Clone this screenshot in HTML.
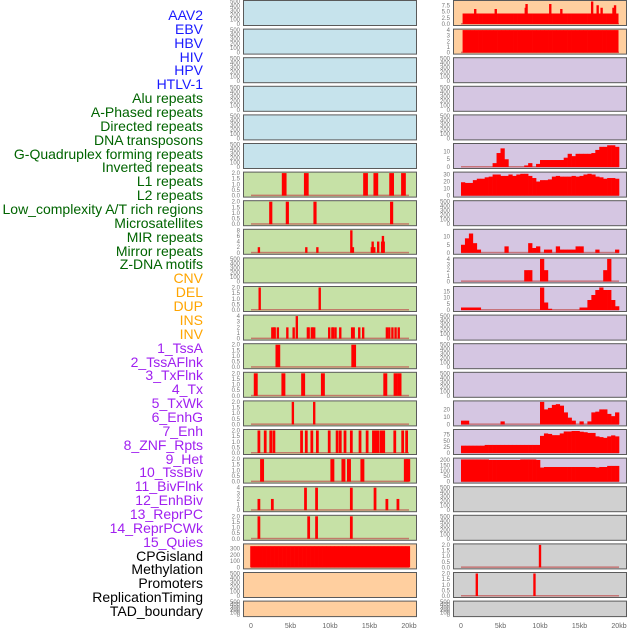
<!DOCTYPE html>
<html><head><meta charset="utf-8">
<style>
body{margin:0;background:#fff;width:630px;height:630px;overflow:hidden;font-family:"Liberation Sans",sans-serif;}
#labels{position:absolute;left:0;top:0;width:203px;}
.lab{position:absolute;right:0;font-size:14px;line-height:14px;white-space:nowrap;}
svg{position:absolute;left:0;top:0;}
</style></head>
<body>
<div id="labels"></div>
<svg id="chart" width="630" height="630"></svg>
<script>
const labelNames=["AAV2","EBV","HBV","HIV","HPV","HTLV-1","Alu repeats","A-Phased repeats","Directed repeats","DNA transposons","G-Quadruplex forming repeats","Inverted repeats","L1 repeats","L2 repeats","Low_complexity A/T rich regions","Microsatellites","MIR repeats","Mirror repeats","Z-DNA motifs","CNV","DEL","DUP","INS","INV","1_TssA","2_TssAFlnk","3_TxFlnk","4_Tx","5_TxWk","6_EnhG","7_Enh","8_ZNF_Rpts","9_Het","10_TssBiv","11_BivFlnk","12_EnhBiv","13_ReprPC","14_ReprPCWk","15_Quies","CPGisland","Methylation","Promoters","ReplicationTiming","TAD_boundary"];
const labelColors=["#1a1aff","#1a1aff","#1a1aff","#1a1aff","#1a1aff","#1a1aff","#006400","#006400","#006400","#006400","#006400","#006400","#006400","#006400","#006400","#006400","#006400","#006400","#006400","#ffa500","#ffa500","#ffa500","#ffa500","#ffa500","#a020f0","#a020f0","#a020f0","#a020f0","#a020f0","#a020f0","#a020f0","#a020f0","#a020f0","#a020f0","#a020f0","#a020f0","#a020f0","#a020f0","#a020f0","#000","#000","#000","#000","#000"];

// Left column bar tracks: positions (kb) and heights
const L7pos=[4.2,7.0,14.5,15.8,17.8,19.3]; const L7val=[2,2,2,2,2,2];
const L8pos=[2.5,4.6,8.1,17.8]; const L8val=[2,2,2,2];
const L9pos=[1.0,7.0,8.4,12.7,12.9,15.3,15.4,15.6,16.1,16.6,16.7,16.8]; const L9val=[2,2,2,8,2,2,4,2,4,4,6,4];
const L11pos=[1.1,8.7]; const L11val=[2,2];
const L12pos=[2.7,2.9,3.0,3.4,4.6,5.4,5.8,7.2,7.3,7.7,7.8,8.0,9.9,10.3,10.4,10.7,11.3,12.8,13.0,13.7,14.2,17.2,17.5,17.9,18.3,18.7];
const L12val=[2,2,2,2,2,2,4,2,2,2,2,2,2,2,2,2,2,2,2,2,2,2,2,2,2,2];
const L13pos=[3.4,13.0]; const L13val=[2,2];
const L14pos=[0.6,4.1,6.6,9.1,17.0,18.3,18.8]; const L14val=[2,2,2,2,2,2,2];
const L15pos=[5.3,8.0]; const L15val=[2,2];
const L16pos=[1.0,1.8,2.5,2.9,6.4,7.0,7.7,8.4,9.9,10.9,11.3,11.9,12.7,13.8,14.7,15.5,15.8,16.1,16.5,16.8,18.2,19.2,19.7];
const L16val=[2,2,2,2,2,2,2,2,2,2,2,2,2,2,2,2,2,2,2,2,2,2,2];
const L17pos=[1.4,10.3,11.7,12.4,14.1,19.6,19.9]; const L17val=[2,2,2,2,2,2,2];
const L18pos=[1.0,2.7,6.9,8.3,12.7,15.7,17.2,18.6]; const L18val=[2,2,4,4,4,4,2,2];
const L19pos=[1.0,7.3,8.3,12.7]; const L19val=[2,2,2,2];
const L20bins=[340,340,340,340,340,340,340,340,340,340,340,340,340,340,340,340,340,340,340,340,340,340,340,340,340,340,340,340,340,340,340,340,340,340,340,340,340,340,340,340];

// Right column tracks
const R1pos=[1.8,4.4,8.2,8.3,11.3,12.7,16.6,17.3,17.8,19.3,19.5]; const R1val=[6,6,6.5,8,8,6,9,7.5,6.5,6.5,7.5];
const R1bins=Array(40).fill(4.2);
const R2bins=Array(40).fill(4);
const R6bins=[0,0,0,0,0,0,0,0,2.5,9,12,5,0,0,0,0,1,2.5,0,2,4.5,4.5,4.5,4.5,4.5,4.5,6,8.5,7,8.5,8.5,8.5,8.5,9,11,13,13,14,14,13];
const R7bins=[19,18,18,22,24,24,26,27,30,30,28,28,30,28,30,31,31,28,25,20,22,22,23,27,28,27,27,27,28,27,28,30,31,30,27,26,24,25,25,24];
const R9bins=[5,9,12,6,2,0,0,0,0,0,0,4,0,0,0,0,0,6,3,4,0,2,2,0,4,2,2,2,2,4,4,0,0,0,2,0,0,0,0,2];
const R10bins=[0,0,0,0,0,0,0,0,0,0,0,0,0,0,0,0,2,2,0,0,4,2,0,0,0,0,0,0,0,0,0,0,0,0,0,0,2,4,0,0];
const R11bins=[2,2,2,2,2,0,0,0,0,0,0,0,0,0,0,0,0,0,0,0,18,6,1,0,0,0,0,0,0,0,2,2,8,12,16,18,16,16,8,3];
const R15bins=[5,5,0,0,0,0,0,0,0,0,4,0,0,0,0,0,0,0,0,0,30,20,22,26,27,25,16,9,5,0,4,0,4,16,17,20,20,14,11,16];
const R16bins=[30,30,30,30,30,30,33,33,33,33,33,33,33,33,33,33,33,33,33,33,70,80,78,73,73,80,88,88,90,90,87,85,82,82,68,65,62,68,72,68];
const R17bins=[205,205,205,205,205,205,205,200,200,200,200,200,200,200,200,205,205,205,205,200,130,135,135,135,135,135,135,135,135,135,135,135,135,135,130,135,135,145,145,145];
const R20pos=[10.0]; const R20val=[2];
const R21pos=[2.0,9.3]; const R21val=[2,2];

const T500=[0,100,200,300,400,500], T2=[0,0.5,1,1.5,2], T4=[0,1,2,3,4];
const BLUE="#c6e3ec",GREEN="#c6e1a6",ORANGE="#ffcf9f",PURPLE="#d5c6e2",GRAY="#d0d0d0";
const left=[
 {bg:BLUE,ticks:T500,ymax:500},{bg:BLUE,ticks:T500,ymax:500},{bg:BLUE,ticks:T500,ymax:500},{bg:BLUE,ticks:T500,ymax:500},{bg:BLUE,ticks:T500,ymax:500},{bg:BLUE,ticks:T500,ymax:500},
 {bg:GREEN,ticks:T2,ymax:2,pos:L7pos,val:L7val,w:0.6},{bg:GREEN,ticks:T2,ymax:2,pos:L8pos,val:L8val,w:0.4},
 {bg:GREEN,ticks:[0,2,4,6,8],ymax:8,pos:L9pos,val:L9val,w:0.3},{bg:GREEN,ticks:T500,ymax:500},
 {bg:GREEN,ticks:T2,ymax:2,pos:L11pos,val:L11val,w:0.3},{bg:GREEN,ticks:T4,ymax:4,pos:L12pos,val:L12val,w:0.3},
 {bg:GREEN,ticks:T2,ymax:2,pos:L13pos,val:L13val,w:0.6},{bg:GREEN,ticks:T2,ymax:2,pos:L14pos,val:L14val,w:0.5},
 {bg:GREEN,ticks:T2,ymax:2,pos:L15pos,val:L15val,w:0.3},{bg:GREEN,ticks:T2,ymax:2,pos:L16pos,val:L16val,w:0.35},
 {bg:GREEN,ticks:T2,ymax:2,pos:L17pos,val:L17val,w:0.5},{bg:GREEN,ticks:T4,ymax:4,pos:L18pos,val:L18val,w:0.35},
 {bg:GREEN,ticks:T2,ymax:2,pos:L19pos,val:L19val,w:0.35},
 {bg:ORANGE,ticks:[0,100,200,300],ymax:360,bins:L20bins,b0:-0.1,b1:20.1},
 {bg:ORANGE,ticks:T500,ymax:500},{bg:ORANGE,ticks:T500,ymax:500}];
const right=[
 {bg:ORANGE,ticks:[0,2.5,5,7.5],ymax:9,bins:R1bins,pos:R1pos,val:R1val,w:0.3,b0:0.2,b1:19.9},
 {bg:ORANGE,ticks:T4,ymax:4,bins:R2bins,b0:0.2,b1:19.9},
 {bg:PURPLE,ticks:T500,ymax:500},{bg:PURPLE,ticks:T500,ymax:500},{bg:PURPLE,ticks:T500,ymax:500},
 {bg:PURPLE,ticks:[0,5,10],ymax:14.5,bins:R6bins},{bg:PURPLE,ticks:[0,10,20,30],ymax:32,bins:R7bins},
 {bg:PURPLE,ticks:T500,ymax:500},{bg:PURPLE,ticks:[0,5,10],ymax:14,bins:R9bins},
 {bg:PURPLE,ticks:T4,ymax:4,bins:R10bins},{bg:PURPLE,ticks:[0,5,10,15],ymax:18,bins:R11bins},
 {bg:PURPLE,ticks:T500,ymax:500},{bg:PURPLE,ticks:T500,ymax:500},{bg:PURPLE,ticks:T500,ymax:500},
 {bg:PURPLE,ticks:[0,10,20],ymax:30,bins:R15bins},{bg:PURPLE,ticks:[0,25,50,75],ymax:92,bins:R16bins},
 {bg:PURPLE,ticks:[0,50,100,150,200],ymax:208,bins:R17bins},
 {bg:GRAY,ticks:T500,ymax:500},{bg:GRAY,ticks:T500,ymax:500},
 {bg:GRAY,ticks:T2,ymax:2,pos:R20pos,val:R20val,w:0.3,base:true},
 {bg:GRAY,ticks:T2,ymax:2,pos:R21pos,val:R21val,w:0.3,base:true},
 {bg:GRAY,ticks:T500,ymax:500}];

const lab=document.getElementById('labels');
labelNames.forEach((n,i)=>{
  const d=document.createElement('div');
  d.className='lab';
  d.style.top=(8+i*13.86)+'px';
  d.style.color=labelColors[i];
  d.textContent=n;
  
  
  lab.appendChild(d);
});

const svg=document.getElementById('chart');
const NS="http://www.w3.org/2000/svg";
function mk(tag,attrs,parent){const e=document.createElementNS(NS,tag);for(const k in attrs)e.setAttribute(k,attrs[k]);(parent||svg).appendChild(e);return e;}
function xScale(col,kb){return (col?461:251)+kb*7.9;}
function fmt(v){return String(v%1===0&&v!==2.5&&v!==7.5?(v>=10||Number.isInteger(v)&&v>4?v:v.toFixed? (v<=4&&!(v>=100)?(v%1===0&&v>4?v:(v<5&&[0,0.5,1,1.5,2].includes(v)?v.toFixed(1):v)):v):v):v);}

function drawPanel(p,col,i){
  const top=0.5+i*28.6, H=(i===21)?15.5:25;
  const px0=col?453:243, pw=173;
  const g=mk('g',{});
  
  
  mk('rect',{x:px0+0.5,y:top,width:pw,height:H,fill:p.bg,stroke:'#5a5a5a','stroke-width':1},g);
  const yb=top+H-1.5, yt=top+1;
  const ys=v=>yb-(v/p.ymax)*(yb-yt);
  // ticks
  p.ticks.forEach(t=>{
    const tx=mk('text',{x:px0-3,y:ys(t)+2,'font-size':6,fill:'#777','text-anchor':'end','font-family':'Liberation Sans, sans-serif'},g);
    let s; if(p.ticks.includes(0.5)||p.ticks.includes(2.5)) s=(t%1===0&&!p.ticks.includes(2.5))?t.toFixed(1):(p.ticks.includes(2.5)?t.toFixed(1):String(t)); else s=String(t);
    tx.textContent=s;
    
    
  });
  if(p.pos||p.bins||p.base){
    const bl=mk('rect',{x:xScale(col,0),y:yb-1,width:xScale(col,20)-xScale(col,0),height:1.5,fill:'#c05050',opacity:0.7},g);
    
    
  }
  if(p.bins){
    const b0=p.b0!==undefined?p.b0:0, b1=p.b1!==undefined?p.b1:20, bw=(b1-b0)/p.bins.length;
    p.bins.forEach((v,k)=>{
      if(v<=0)return;
      const x0=xScale(col,b0+k*bw), x1=xScale(col,b0+(k+1)*bw);
      const r=mk('rect',{x:x0,y:ys(v),width:x1-x0+0.3,height:yb-ys(v),fill:'#ff0000'},g);
      
      
    });
  }
  if(p.pos){
    p.pos.forEach((kb,k)=>{
      const v=p.val[k];
      const x0=xScale(col,kb-p.w/2), x1=xScale(col,kb+p.w/2);
      const r=mk('rect',{x:x0,y:ys(v),width:Math.max(1.5,x1-x0),height:yb-ys(v),fill:'#ff0000'},g);
      
      
    });
  }
}
left.forEach((p,i)=>drawPanel(p,0,i));
right.forEach((p,i)=>drawPanel(p,1,i));

const xTicks=[0,5,10,15,20], xTickLabels=["0","5kb","10kb","15kb","20kb"];
[0,1].forEach(col=>{
  xTicks.forEach((t,k)=>{
    const tx=mk('text',{x:xScale(col,t),y:628,'font-size':7,fill:'#666','text-anchor':'middle','font-family':'Liberation Sans, sans-serif'});
    tx.textContent=xTickLabels[k];
    
    
  });
});
</script>
</body></html>
